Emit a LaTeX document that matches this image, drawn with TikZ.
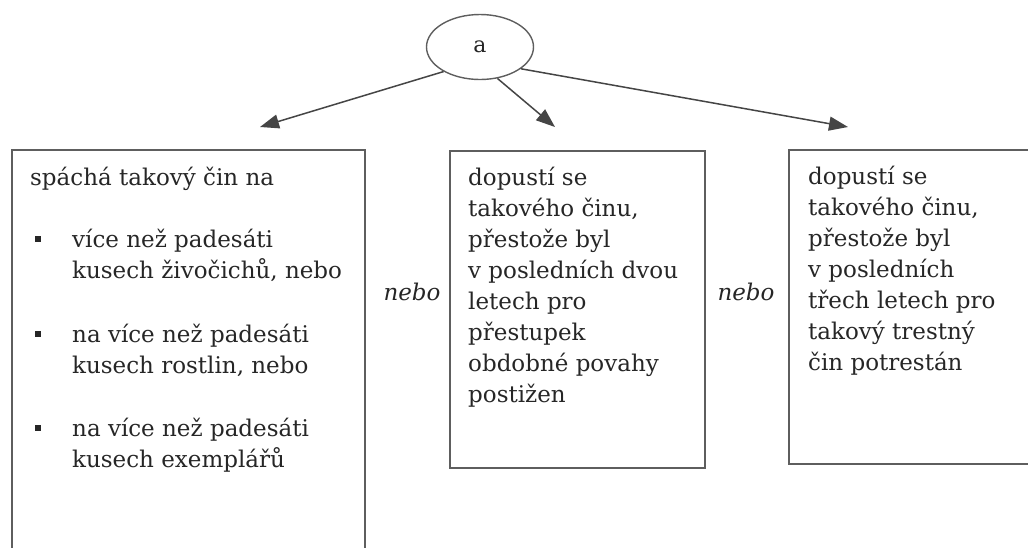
\documentclass[tikz,border=0pt]{standalone}
\usepackage{fontspec}
\setmainfont{DejaVu Serif}
\usetikzlibrary{arrows.meta,shapes.geometric}
\definecolor{txt}{HTML}{262626}
\definecolor{edge}{HTML}{5E5E5E}
\definecolor{arr}{HTML}{454545}
\newcommand{\sqbul}{\hspace*{5pt}\makebox[37pt][l]{\raisebox{6pt}{\rule{6pt}{6pt}}}}
\newcommand{\indt}{\hspace*{42pt}}
\tikzset{
  boxshape/.style={draw=edge, line width=1.6pt, rectangle, inner sep=0pt},
  boxtext/.style={anchor=north west, inner sep=0pt, align=left, text=txt,
    font=\fontsize{23}{31}\selectfont},
  orlabel/.style={text=txt, inner sep=0pt, anchor=base, font=\fontsize{23}{31}\selectfont\itshape},
  conn/.style={draw=arr, line width=1.5pt, -{Triangle[length=19pt,width=14pt]}}
}
\begin{document}
\begin{tikzpicture}[x=1pt,y=-1pt]
\useasboundingbox (0,0) rectangle (1028,547);
% ellipse
\node[ellipse, draw=edge, line width=1.4pt, minimum width=107pt, minimum height=65pt, inner sep=0pt,
  text=txt, font=\fontsize{22}{24}\selectfont] (a) at (480,47) {a};
% arrow targets
\coordinate (t1) at (260,127);
\coordinate (t2) at (555,127);
\coordinate (t3) at (848,127);
\draw[conn] (a.-146) -- (t1);
\draw[conn] (a.-61) -- (t2);
\draw[conn] (a.-28) -- (t3);
% boxes
\node[boxshape, minimum width=353pt, minimum height=420pt, anchor=north west] (bl) at (11,149) {};
\node[boxshape, minimum width=255pt, minimum height=317pt, anchor=north west] (bm) at (449,150) {};
\node[boxshape, minimum width=260pt, minimum height=314pt, anchor=north west] (br) at (788,149) {};
% texts
\node[boxtext] (tl) at (30,167) {spáchá takový čin na\\[31pt]
\sqbul více než padesáti\\
\indt kusech živočichů, nebo\\[33pt]
\sqbul na více než padesáti\\
\indt kusech rostlin, nebo\\[32pt]
\sqbul na více než padesáti\\
\indt kusech exemplářů};
\node[boxtext] (tm) at (468,167) {dopustí se\\
takového činu,\\
přestože byl\\
v posledních dvou\\
letech pro\\
přestupek\\
obdobné povahy\\
postižen};
\node[boxtext] (tr) at (808,166) {dopustí se\\
takového činu,\\
přestože byl\\
v posledních\\
třech letech pro\\
takový trestný\\
čin potrestán};
% nebo labels
\node[orlabel] (n1) at (412,300) {nebo};
\node[orlabel] (n2) at (746,300) {nebo};
\end{tikzpicture}
\end{document}
